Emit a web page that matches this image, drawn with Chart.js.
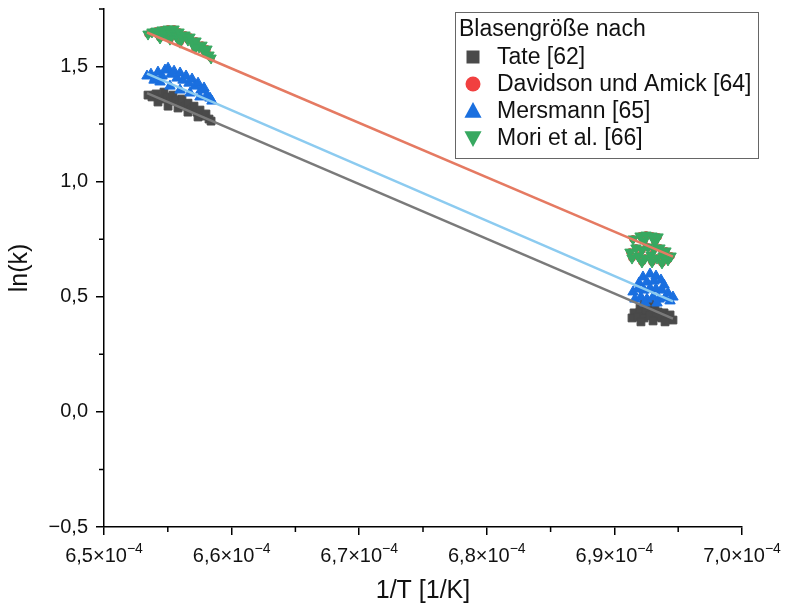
<!DOCTYPE html>
<html>
<head>
<meta charset="utf-8">
<script src="https://cdn.jsdelivr.net/npm/chart.js@4.4.1/dist/chart.umd.min.js"></script>
<style>
  body { margin: 0; background: #fff; }
  #canv { display: block; }
</style>
</head>
<body>
<canvas id="canv" width="787" height="606"></canvas>
<script>
const xTicks = [6.5e-4, 6.6e-4, 6.7e-4, 6.8e-4, 6.9e-4, 7.0e-4]
const xMinor = [6.55e-4, 6.65e-4, 6.75e-4, 6.85e-4, 6.95e-4]
const yTicks = [-0.5, 0, 0.5, 1.0, 1.5]
const yMinor = [-0.25, 0.25, 0.75, 1.25, 1.75]

const legendTitle = "Blasengröße nach"
const seriesNames = ["Tate [62]", "Davidson und Amick [64]", "Mersmann [65]", "Mori et al. [66]"]

// [1/T, ln(k)]
const tatePts = [
  [6.5345e-4,1.376],[6.5376e-4,1.368],[6.5408e-4,1.381],[6.5439e-4,1.359],[6.5470e-4,1.389],[6.5494e-4,1.368],
  [6.5517e-4,1.350],[6.5541e-4,1.376],[6.5564e-4,1.355],[6.5588e-4,1.337],[6.5611e-4,1.359],[6.5635e-4,1.328],
  [6.5658e-4,1.341],[6.5682e-4,1.315],[6.5705e-4,1.328],[6.5729e-4,1.302],[6.5752e-4,1.311],[6.5776e-4,1.285],
  [6.5799e-4,1.294],[6.5823e-4,1.272],[6.5839e-4,1.263],[6.5423e-4,1.346],[6.5502e-4,1.328],[6.5580e-4,1.320],
  [6.5658e-4,1.302],[6.5737e-4,1.281],
  [6.9232e-4,0.473],[6.9279e-4,0.477],[6.9318e-4,0.464],[6.9201e-4,0.451],[6.9263e-4,0.456],[6.9154e-4,0.430],
  [6.9201e-4,0.434],[6.9248e-4,0.438],[6.9295e-4,0.438],[6.9342e-4,0.434],[6.9389e-4,0.430],[6.9436e-4,0.421],
  [6.9138e-4,0.408],[6.9185e-4,0.412],[6.9232e-4,0.408],[6.9279e-4,0.417],[6.9326e-4,0.412],[6.9373e-4,0.408],
  [6.9420e-4,0.404],[6.9459e-4,0.399],[6.9208e-4,0.391],[6.9303e-4,0.395],[6.9397e-4,0.391]
]
const mersmannPts = [
  [6.5337e-4,1.459],[6.5368e-4,1.467],[6.5400e-4,1.450],[6.5423e-4,1.476],[6.5455e-4,1.459],[6.5478e-4,1.485],
  [6.5502e-4,1.493],[6.5525e-4,1.467],[6.5549e-4,1.480],[6.5572e-4,1.450],[6.5596e-4,1.472],[6.5619e-4,1.441],
  [6.5643e-4,1.459],[6.5666e-4,1.428],[6.5690e-4,1.446],[6.5713e-4,1.415],[6.5737e-4,1.428],[6.5760e-4,1.398],
  [6.5784e-4,1.407],[6.5807e-4,1.376],[6.5831e-4,1.363],[6.5846e-4,1.350],[6.5439e-4,1.433],[6.5517e-4,1.415],
  [6.5596e-4,1.398],[6.5674e-4,1.385],[6.5752e-4,1.368],[6.5392e-4,1.441],
  [6.9224e-4,0.586],[6.9279e-4,0.599],[6.9326e-4,0.590],[6.9365e-4,0.573],[6.9193e-4,0.560],[6.9255e-4,0.564],
  [6.9310e-4,0.568],[6.9389e-4,0.551],[6.9146e-4,0.521],[6.9185e-4,0.534],[6.9232e-4,0.529],[6.9279e-4,0.538],
  [6.9326e-4,0.534],[6.9373e-4,0.529],[6.9420e-4,0.516],[6.9459e-4,0.499],[6.9161e-4,0.490],[6.9208e-4,0.499],
  [6.9255e-4,0.490],[6.9303e-4,0.499],[6.9350e-4,0.490],[6.9397e-4,0.495],[6.9436e-4,0.482],[6.9240e-4,0.473],
  [6.9334e-4,0.473]
]
const moriPts = [
  [6.5345e-4,1.641],[6.5376e-4,1.650],[6.5408e-4,1.654],[6.5423e-4,1.637],[6.5455e-4,1.659],[6.5478e-4,1.641],
  [6.5502e-4,1.663],[6.5525e-4,1.645],[6.5549e-4,1.663],[6.5564e-4,1.632],[6.5588e-4,1.650],[6.5611e-4,1.624],
  [6.5635e-4,1.637],[6.5658e-4,1.615],[6.5674e-4,1.628],[6.5697e-4,1.602],[6.5721e-4,1.611],[6.5745e-4,1.585],
  [6.5768e-4,1.593],[6.5784e-4,1.567],[6.5807e-4,1.576],[6.5823e-4,1.550],[6.5839e-4,1.537],[6.5596e-4,1.606],
  [6.5517e-4,1.619],[6.5439e-4,1.624],[6.5713e-4,1.580],
  [6.9146e-4,0.751],[6.9201e-4,0.764],[6.9248e-4,0.768],[6.9295e-4,0.764],[6.9342e-4,0.760],[6.9232e-4,0.742],
  [6.9318e-4,0.738],[6.9122e-4,0.694],[6.9169e-4,0.712],[6.9216e-4,0.703],[6.9263e-4,0.716],[6.9310e-4,0.707],
  [6.9357e-4,0.712],[6.9404e-4,0.699],[6.9444e-4,0.677],[6.9138e-4,0.668],[6.9185e-4,0.677],[6.9240e-4,0.668],
  [6.9287e-4,0.681],[6.9334e-4,0.668],[6.9381e-4,0.677],[6.9420e-4,0.660],[6.9216e-4,0.651],[6.9295e-4,0.651],
  [6.9373e-4,0.647]
]
// red circles sit under the green triangles (same readings)
const davidsonPts = moriPts

// linear fits, end points
const tateFit = [[6.5337e-4, 1.385], [6.9459e-4, 0.405]]
const davidsonFit = [[6.5337e-4, 1.648], [6.9459e-4, 0.674]]
const mersmannFit = [[6.5337e-4, 1.469], [6.9459e-4, 0.480]]

const colors = ["#4a4a4a", "#f14040", "#1a6fdf", "#37a860"]
const fitColors = ["#7a7a7a", "#e57a62", "#8ccbf0"]
const styles = [
  {pointStyle: "rect", rotation: 0},
  {pointStyle: "circle", rotation: 0},
  {pointStyle: "triangle", rotation: 0},
  {pointStyle: "triangle", rotation: 180}
]

const toXY = arr => arr.map(p => ({x: p[0], y: p[1]}))
const FONT = "'Liberation Sans', Arial, sans-serif"

function pointSet(i, pts, radius, order){
  return {
    label: seriesNames[i],
    data: toXY(pts),
    pointStyle: styles[i].pointStyle,
    rotation: styles[i].rotation,
    pointRadius: radius,
    backgroundColor: colors[i],
    borderColor: colors[i],
    pointBorderWidth: 1,
    order: order
  }
}
function fitSet(i, pts){
  return {
    label: "fit",
    data: toXY(pts),
    showLine: true,
    pointRadius: 0,
    borderColor: fitColors[i],
    borderWidth: 2.5,
    order: 0
  }
}

function drawMarker(ctx, style, x, y, r){
  ctx.beginPath()
  if (style.pointStyle == "rect"){
    ctx.rect(x - r, y - r, 2*r, 2*r)
  } else if (style.pointStyle == "circle"){
    ctx.arc(x, y, r, 0, Math.PI*2)
  } else {
    let s = style.rotation ? -1 : 1
    ctx.moveTo(x, y - s*r)
    ctx.lineTo(x + r*0.95, y + s*r*0.75)
    ctx.lineTo(x - r*0.95, y + s*r*0.75)
    ctx.closePath()
  }
  ctx.fill()
}

const extras = {
  id: "extras",
  afterDraw(chart){
    const ctx = chart.ctx
    const xs = chart.scales.x, ys = chart.scales.y
    const area = chart.chartArea
    ctx.save()

    // minor ticks
    ctx.strokeStyle = "#000"
    ctx.lineWidth = 1.5
    ctx.beginPath()
    for (let v of xMinor){
      let px = xs.getPixelForValue(v)
      ctx.moveTo(px, area.bottom); ctx.lineTo(px, area.bottom + 5)
    }
    for (let v of yMinor){
      let py = ys.getPixelForValue(v)
      ctx.moveTo(area.left, py); ctx.lineTo(area.left - 5, py)
    }
    ctx.stroke()

    // x tick labels  a,b×10^-4
    ctx.fillStyle = "#111"
    ctx.textBaseline = "alphabetic"
    ctx.textAlign = "left"
    for (let v of xTicks){
      let base = (v*1e4).toFixed(1).replace(".", ",") + "×10"
      let sup = "−4"
      ctx.font = "20px " + FONT
      let w1 = ctx.measureText(base).width
      ctx.font = "14px " + FONT
      let w2 = ctx.measureText(sup).width
      let px = xs.getPixelForValue(v) - (w1 + w2)/2
      ctx.font = "20px " + FONT
      ctx.fillText(base, px, area.bottom + 35)
      ctx.font = "14px " + FONT
      ctx.fillText(sup, px + w1, area.bottom + 26)
    }

    // legend
    const lx = 455, ly = 12, lw = 303, lh = 146
    ctx.fillStyle = "#fff"
    ctx.fillRect(lx, ly, lw, lh)
    ctx.strokeStyle = "#666"
    ctx.lineWidth = 1
    ctx.strokeRect(lx + 0.5, ly + 0.5, lw, lh)
    ctx.font = "23px " + FONT
    ctx.textBaseline = "middle"
    ctx.fillStyle = "#111"
    ctx.fillText(legendTitle, lx + 4, ly + 18)
    const markerR = [6.5, 7.5, 9, 9]
    for (let i = 0; i < seriesNames.length; i++){
      let yy = ly + 45 + i*27
      ctx.fillStyle = colors[i]
      drawMarker(ctx, styles[i], lx + 18, yy, markerR[i])
      ctx.fillStyle = "#111"
      ctx.fillText(seriesNames[i], lx + 42, yy + 1)
    }
    ctx.restore()
  }
}

new Chart(document.getElementById("canv"), {
  type: "scatter",
  data: {
    datasets: [
      pointSet(0, tatePts, 5.5, 4),
      pointSet(1, davidsonPts, 3.5, 3),
      pointSet(2, mersmannPts, 6, 2),
      pointSet(3, moriPts, 6, 1),
      fitSet(0, tateFit),
      fitSet(1, davidsonFit),
      fitSet(2, mersmannFit)
    ]
  },
  options: {
    responsive: false,
    animation: false,
    devicePixelRatio: 1,
    layout: { padding: { top: 9, right: 45, left: 0, bottom: 0 } },
    plugins: {
      legend: { display: false },
      tooltip: { enabled: false }
    },
    scales: {
      x: {
        type: "linear",
        min: 6.5e-4,
        max: 7.0e-4,
        afterBuildTicks: s => { s.ticks = xTicks.map(v => ({value: v})) },
        afterFit: s => { s.height = 79; s.paddingLeft = 0; s.paddingRight = 0 },
        ticks: { display: false },
        grid: { drawOnChartArea: false, tickLength: 8, tickColor: "#000", tickWidth: 1.5, lineWidth: 1.5 },
        border: { color: "#000", width: 1.5 },
        title: { display: true, text: "1/T [1/K]", color: "#111", font: { family: FONT, size: 25 }, padding: { top: 0, bottom: 0 } }
      },
      y: {
        type: "linear",
        min: -0.5,
        max: 1.75,
        afterBuildTicks: s => { s.ticks = yTicks.map(v => ({value: v})) },
        afterFit: s => { s.width = 104; s.paddingTop = 0; s.paddingBottom = 0 },
        ticks: {
          color: "#111",
          padding: 8,
          font: { family: FONT, size: 20 },
          callback: v => (v < 0 ? "−" : "") + Math.abs(v).toFixed(1).replace(".", ",")
        },
        grid: { drawOnChartArea: false, tickLength: 8, tickColor: "#000", tickWidth: 1.5, lineWidth: 1.5 },
        border: { color: "#000", width: 1.5 },
        title: { display: true, text: "ln(k)", color: "#111", font: { family: FONT, size: 25 }, padding: { top: 5, bottom: 0 } }
      }
    }
  },
  plugins: [extras]
})
</script>
</body>
</html>
